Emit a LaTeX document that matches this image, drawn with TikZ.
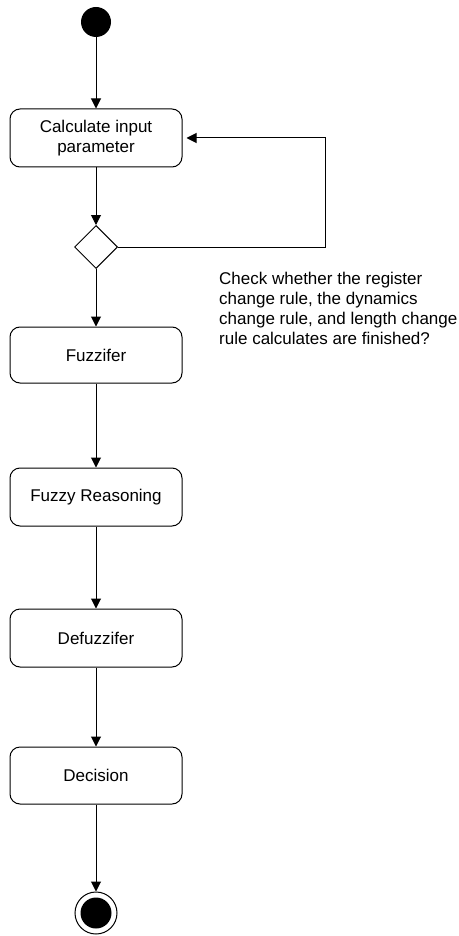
\documentclass[tikz,border=0pt]{standalone}
\usepackage{fontspec}
\setmainfont{Liberation Sans}
\usetikzlibrary{shapes.geometric,arrows.meta}
\begin{document}
\begin{tikzpicture}[x=1pt,y=-1pt,
  actbox/.style={draw,line width=1pt,rounded corners=10pt,minimum width=172pt,inner sep=0pt,align=center,font=\fontsize{17}{20}\selectfont},
  arr/.style={line width=1pt,-{Triangle[length=10pt,width=10pt]}},
  decis/.style={draw,line width=1pt,diamond,aspect=1,minimum size=43pt,inner sep=0pt},
  note/.style={align=left,inner sep=0pt,font=\fontsize{17}{20}\selectfont}]
\useasboundingbox (0,0) rectangle (458,936);
\node[circle,fill=black,minimum size=30pt,inner sep=0pt] (start) at (96,22) {};
\node[actbox,minimum height=58pt] (calc) at (96,138) {Calculate input\\parameter};
\node[decis] (dia) at (96,247) {};
\node[actbox,minimum height=56pt] (fuzz) at (96,355) {Fuzzifer};
\node[actbox,minimum height=58pt] (reas) at (96,497) {Fuzzy Reasoning};
\node[actbox,minimum height=58pt] (defz) at (96,638) {Defuzzifer};
\node[actbox,minimum height=57pt] (deci) at (96,775.5) {Decision};
\node[circle,draw,line width=1pt,minimum size=42pt,inner sep=0pt] (endo) at (96,913) {};
\node[circle,fill=black,minimum size=31pt,inner sep=0pt] (endi) at (96,913) {};
\node[note,anchor=west] (txt) at (219,308) {Check whether the register\\change rule, the dynamics\\change rule, and length change\\rule calculates are finished?};
\coordinate (loopc) at (325,247);
\draw[arr] (start) -- (calc);
\draw[arr] (calc) -- (dia);
\draw[arr,shorten >=4pt] (dia.east) -- (loopc) |- (calc.east);
\draw[arr] (dia) -- (fuzz);
\draw[arr] (fuzz) -- (reas);
\draw[arr] (reas) -- (defz);
\draw[arr] (defz) -- (deci);
\draw[arr] (deci) -- (endo);
\end{tikzpicture}
\end{document}
